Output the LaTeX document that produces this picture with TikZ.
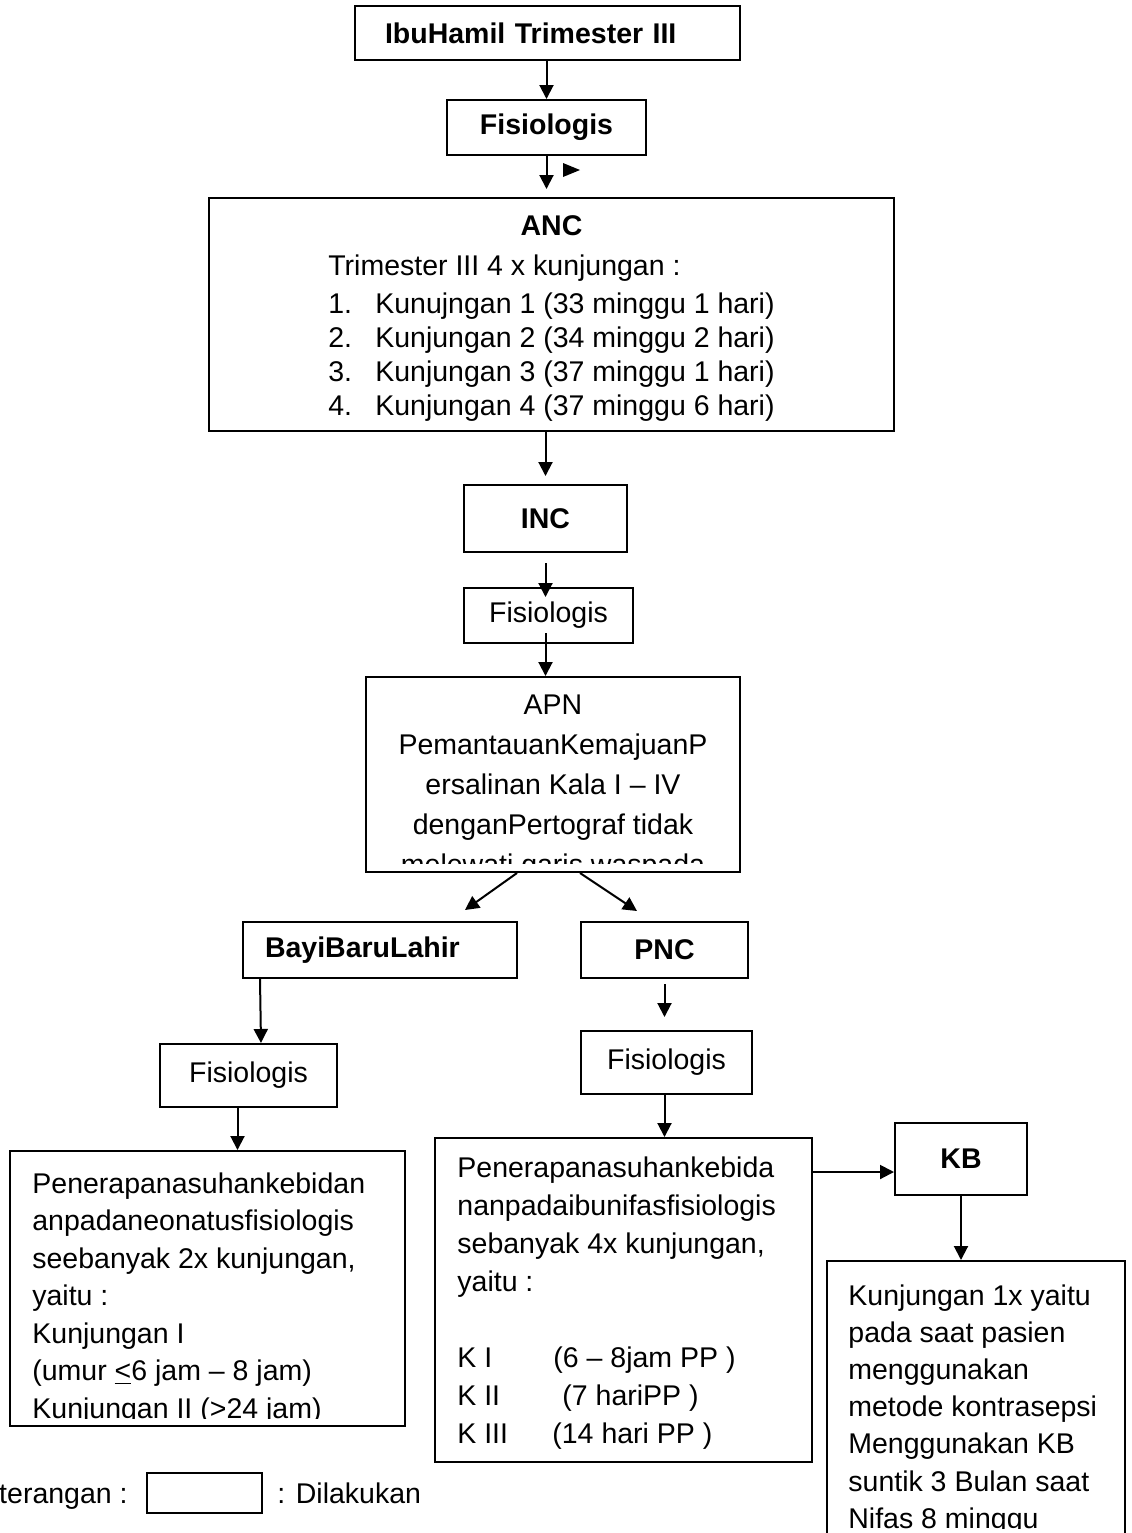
\documentclass[tikz,border=0pt]{standalone}
\usepackage{fontspec}
\setmainfont{Liberation Sans}
\usetikzlibrary{arrows.meta,calc}
\tikzset{
    box/.style={draw, line width=1pt, inner sep=0pt, font=\fontsize{14.25}{19}\selectfont},
    bbox/.style={box, font=\fontsize{14.25}{19}\selectfont\bfseries},
    txt/.style={inner sep=0pt, align=left, font=\fontsize{14.25}{19}\selectfont},
    arr/.style={line width=1pt, -{Triangle[length=7pt,width=7pt]}}
}
\begin{document}
\begin{tikzpicture}[x=0.5pt, y=-0.5pt]
        \useasboundingbox (0,0) rectangle (1131,1533);

        \node[bbox, minimum width=192.5pt, minimum height=27pt, text width=162.5pt, align=left] (ibu) at (547.5,33) {IbuHamil Trimester III};
        \node[bbox, minimum width=99.5pt, minimum height=27.5pt] (fis1) at (546.5,127.5) {Fisiologis};
        \node[box, minimum width=342.5pt, minimum height=116.5pt, font=\fontsize{14.25}{17}\selectfont] (anc) at (551.5,314.5) {%
            \begin{tabular}{@{}p{23.5pt}@{}l@{}}
            \multicolumn{2}{c}{\rule{0pt}{15.9pt}\textbf{ANC}}\\[3pt]
            \multicolumn{2}{@{}l@{}}{Trimester III 4 x kunjungan :}\\[2pt]
            1. & Kunujngan 1 (33 minggu 1 hari)\\
            2. & Kunjungan 2 (34 minggu 2 hari)\\
            3. & Kunjungan 3 (37 minggu 1 hari)\\
            4. & Kunjungan 4 (37 minggu 6 hari)
            \end{tabular}};
        \node[bbox, minimum width=81.5pt, minimum height=33.5pt] (inc) at (545.5,518.5) {INC};
        \node[box, minimum width=84.5pt, minimum height=27.5pt] (fis2) at (548.5,615.5) {Fisiologis};
        \node[box, minimum width=187pt, minimum height=97.5pt] (apn) at (553,774.5) {};
        \begin{scope}
            \clip (apn.north west) rectangle ($(apn.south east)+(0,-10)$);
            \node[txt, align=center, anchor=north, font=\fontsize{14.25}{20}\selectfont] (apntext) at (553,694) {APN\\PemantauanKemajuanP\\ersalinan Kala I -- IV\\denganPertograf tidak\\melewati garis waspada};
        \end{scope}

        \node[bbox, minimum width=137pt, minimum height=28pt, text width=115pt, align=left] (bayi) at (380,950) {BayiBaruLahir};
        \node[bbox, minimum width=83.5pt, minimum height=28pt] (pnc) at (664.5,950) {PNC};
        \node[box, minimum width=88.5pt, minimum height=31.5pt] (fis3) at (248.5,1075.5) {Fisiologis};
        \node[box, minimum width=85.5pt, minimum height=31.5pt] (fis4) at (666.5,1062.5) {Fisiologis};

        \node[box, minimum width=197.5pt, minimum height=137.5pt] (bbl) at (207.5,1288.5) {};
        \begin{scope}
            \clip (bbl.north west) rectangle ($(bbl.south east)+(0,-9)$);
            \node[txt, anchor=north west, font=\fontsize{14.25}{18.75}\selectfont] (bbltext) at (32,1172) {Penerapanasuhankebidan\\anpadaneonatusfisiologis\\seebanyak 2x kunjungan,\\yaitu :\\Kunjungan I\\(umur \underline{<}6 jam -- 8 jam)\\Kunjungan II (\underline{>}24 jam)};
        \end{scope}

        \node[box, minimum width=188.5pt, minimum height=162pt] (pnctext) at (623.5,1300) {};
        \begin{scope}
            \clip (pnctext.north west) rectangle ($(pnctext.south east)+(0,-14)$);
            \node[txt, anchor=north west] (pnclines) at (457,1156) {Penerapanasuhankebida\\nanpadaibunifasfisiologis\\sebanyak 4x kunjungan,\\yaitu :\\[19pt]\makebox[48pt][l]{K I}(6 -- 8jam PP )\\\makebox[52.5pt][l]{K II}(7 hariPP )\\\makebox[47.5pt][l]{K III}(14 hari PP )};
        \end{scope}

        \node[bbox, minimum width=66pt, minimum height=36pt] (kb) at (961,1159) {KB};
        \node[box, minimum width=149pt, minimum height=150pt, anchor=north] (kbtext) at (976,1260) {};
        \begin{scope}
            \clip (kbtext.north west) rectangle ($(kbtext.north east)+(0,268)$);
            \node[txt, anchor=north west, font=\fontsize{14.25}{18.6}\selectfont] (kblines) at (848,1284) {Kunjungan 1x yaitu\\pada saat pasien\\menggunakan\\metode kontrasepsi\\Menggunakan KB\\suntik 3 Bulan saat\\Nifas 8 minggu};
        \end{scope}

        \node[box, minimum width=57.5pt, minimum height=20pt] (legend) at (204.5,1493) {};
        \node[txt, anchor=base east] (ket) at (128,1503) {Keterangan :};
        \node[txt, anchor=base west] (dil) at (277,1503) {: Dilakukan};

        \draw[arr] (fis1.north |- ibu.south) -- (fis1.north);
        \draw[arr, shorten >=4pt] (fis1.south) -- (fis1.south |- anc.north);
        \fill (563,163) -- (580,170) -- (563,177) -- cycle;
        \draw[arr, shorten >=4pt] (inc.north |- anc.south) -- (inc.north);
        \draw[arr, shorten <=5pt, shorten >=-5pt] (inc.south) -- (inc.south |- fis2.north);
        \draw[arr, shorten <=-5.5pt] (inc.south |- fis2.south) -- (inc.south |- apn.north);
        \draw[arr] ($(apn.south)+(-36,0)$) -- ($(bayi.north)+(85,-11)$);
        \draw[arr] ($(apn.south)+(27,0)$) -- ($(pnc.north)+(-27.5,-10)$);
        \draw[arr] ($(bayi.south west)+(18,0)$) -- ($(fis3.north)+(12.5,0)$);
        \draw[arr, shorten <=2.5pt, shorten >=6.5pt] (pnc.south) -- (pnc.south |- fis4.north);
        \draw[arr] ($(fis3.south)+(-11,0)$) -- ($(bbl.north)+(30,0)$);
        \draw[arr] (pnc.south |- fis4.south) -- (pnc.south |- pnctext.north);
        \coordinate (kbin) at ($(kb.west)+(0,13)$);
        \draw[arr] (pnctext.east |- kbin) -- (kbin);
        \draw[arr] (kb.south) -- (kb.south |- kbtext.north);
\end{tikzpicture}
\end{document}
